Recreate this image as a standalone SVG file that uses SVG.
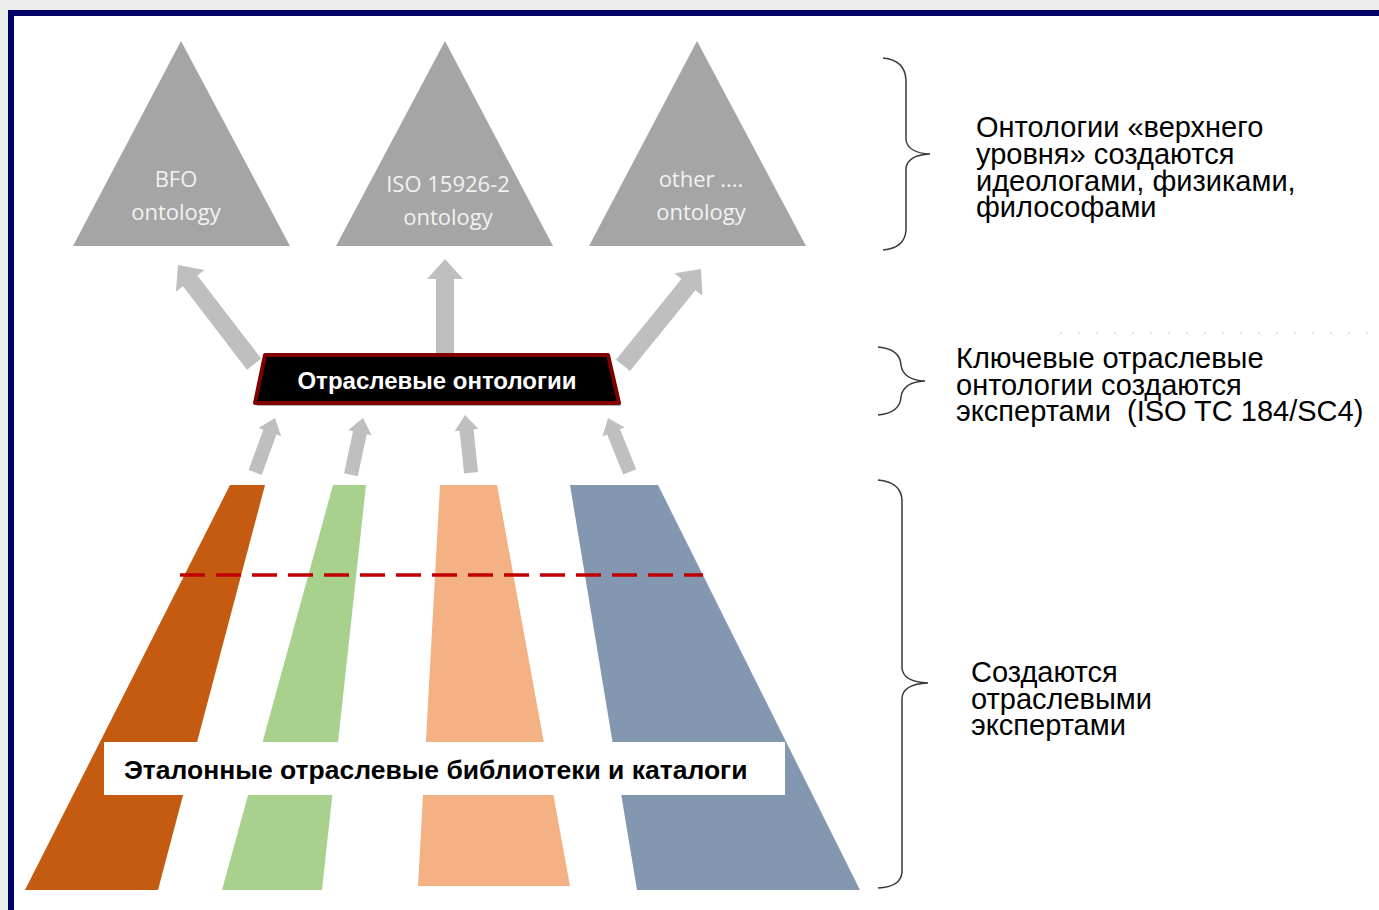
<svg xmlns="http://www.w3.org/2000/svg" width="1379" height="910" viewBox="0 0 1379 910">
  <style>
    .tri { fill: #a5a5a5; }
    .tri-label { font-family: "Open Sans", "Liberation Sans", sans-serif; font-size: 22px; fill: #f2f2f2; text-anchor: middle; }
    .big-arrow { fill: #bfbfbf; }
    .note { font-family: "Liberation Sans", Arial, sans-serif; font-size: 29px; fill: #000000; white-space: pre; }
    .brace { fill: none; stroke: #3a3a3a; stroke-width: 1.5; }
    .bold-label { font-family: "Liberation Sans", Arial, sans-serif; font-weight: bold; }
  </style>
  <defs>
    <!-- up-pointing block arrow, tip at the origin -->
    <polygon id="arrowSmall" points="0,0 12,15 7,15 7,58 -7,58 -7,15 -12,15"/>
  </defs>

  <!-- page background and frame -->
  <rect x="0" y="0" width="1379" height="910" fill="#ededed"/>
  <rect x="8" y="10" width="1380" height="910" fill="#000066"/>
  <rect x="14" y="16" width="1370" height="900" fill="#ffffff"/>

  <!-- upper-level ontologies -->
  <g id="bfo">
    <polygon class="tri" points="181,41 290,246 73,246"/>
    <text class="tri-label" x="176" y="187">BFO</text>
    <text class="tri-label" x="176" y="220">ontology</text>
  </g>
  <g id="iso15926">
    <polygon class="tri" points="445,41 553,246 336,246"/>
    <text class="tri-label" x="448" y="192">ISO 15926-2</text>
    <text class="tri-label" x="448" y="225">ontology</text>
  </g>
  <g id="other">
    <polygon class="tri" points="697,41 806,246 589,246"/>
    <text class="tri-label" x="701" y="187">other ....</text>
    <text class="tri-label" x="701" y="220">ontology</text>
  </g>

  <!-- reference libraries and catalogues -->
  <g id="libraries">
    <polygon fill="#c55a11" points="230,485 265,485 158,890 25,890"/>
    <polygon fill="#a9d18e" points="333,485 366,485 322,890 222,890"/>
    <polygon fill="#f4b183" points="440,485 497,485 570,886 418,886"/>
    <polygon fill="#8497b0" points="570,485 658,485 860,890 637,890"/>
    <line x1="180" y1="575" x2="703" y2="575" stroke="#c00000" stroke-width="3.5" stroke-dasharray="25 11"/>
    <rect x="104" y="742" width="681" height="53" fill="#ffffff"/>
    <text class="bold-label" x="124" y="779" font-size="26.5" fill="#000000">Эталонные отраслевые библиотеки и каталоги</text>
  </g>

  <!-- connectors -->
  <g id="connectors" class="big-arrow">
    <polygon points="0,0 18,20 9,20 9,125 -9,125 -9,20 -18,20" transform="translate(178,265) rotate(-37.5)"/>
    <polygon points="0,0 18,20 9,20 9,94 -9,94 -9,20 -18,20" transform="translate(445,259)"/>
    <polygon points="0,0 18,20 9,20 9,124 -9,124 -9,20 -18,20" transform="translate(701,269) rotate(39)"/>
    <use href="#arrowSmall" transform="translate(275,418) rotate(20)"/>
    <use href="#arrowSmall" transform="translate(363,418) rotate(12)"/>
    <use href="#arrowSmall" transform="translate(465,415) rotate(-6)"/>
    <use href="#arrowSmall" transform="translate(608,418) rotate(-22)"/>
  </g>

  <!-- domain ontologies -->
  <g id="domain-ontologies">
    <polygon points="267,358 610,358 621,406 257,406" fill="#808080" opacity="0.6"/>
    <polygon points="265,355 608,355 619,403 255,403" fill="#000000" stroke="#800000" stroke-width="4" stroke-linejoin="round"/>
    <text class="bold-label" x="437" y="389" font-size="24" fill="#ffffff" text-anchor="middle">Отраслевые онтологии</text>
  </g>

  <!-- braces and notes -->
  <g id="note-upper">
    <path class="brace" d="M883,58 Q905,60 906,80 L906,140 Q908,153 930,154 Q908,155 906,168 L906,230 Q905,248 883,250"/>
    <text class="note" x="976" y="137">Онтологии «верхнего</text>
    <text class="note" x="976" y="164">уровня» создаются</text>
    <text class="note" x="976" y="191">идеологами, физиками,</text>
    <text class="note" x="976" y="217">философами</text>
  </g>
  <g id="note-domain">
    <line x1="1060" y1="333" x2="1379" y2="333" stroke="#e3e3e3" stroke-width="2" stroke-dasharray="2 16"/>
    <path class="brace" d="M878,347 Q900,349 901,365 Q903,380 925,381 Q903,382 901,397 Q900,413 878,415"/>
    <text class="note" x="956" y="368">Ключевые отраслевые</text>
    <text class="note" x="956" y="395">онтологии создаются</text>
    <text class="note" x="956" y="421">экспертами  (ISO TC 184/SC4)</text>
  </g>
  <g id="note-experts">
    <path class="brace" d="M878,480 Q901,482 902,500 L902,668 Q903,682 928,683 Q903,684 902,698 L902,872 Q901,887 878,888"/>
    <text class="note" x="971" y="682">Создаются</text>
    <text class="note" x="971" y="709">отраслевыми</text>
    <text class="note" x="971" y="735">экспертами</text>
  </g>
</svg>
